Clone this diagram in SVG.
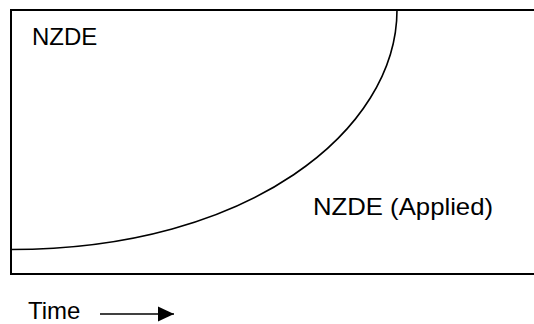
<svg xmlns="http://www.w3.org/2000/svg" width="534" height="324" viewBox="0 0 534 324">
<style>
.t{font-family:"Liberation Sans",Arial,sans-serif;font-size:24px;fill:#000}
.ln{fill:none;stroke:#000}
</style>
<defs>
<marker id="ah" markerWidth="16" markerHeight="16" refX="16" refY="8" orient="auto" markerUnits="userSpaceOnUse">
<path d="M0,0.5 L16,8 L0,15.5 Z" fill="#000"/>
</marker>
</defs>
<rect width="534" height="324" fill="#fff"/>
<g id="frame">
<rect class="ln" x="11" y="10" width="540" height="264" stroke-width="2"/>
</g>
<g id="nzde"><text class="t" x="32" y="45">NZDE</text></g>
<g id="nzde-applied"><text class="t" x="313" y="215" textLength="180" lengthAdjust="spacingAndGlyphs">NZDE (Applied)</text></g>
<g id="time"><text class="t" x="28" y="319" font-size="23">Time</text></g>
<g id="connectors">
<path class="ln" stroke-width="1.6" d="M11,249.5 C250,249.5 397,130 397,10"/>
<line class="ln" stroke-width="1.4" x1="100" y1="314" x2="174" y2="314" marker-end="url(#ah)"/>
</g>
</svg>
